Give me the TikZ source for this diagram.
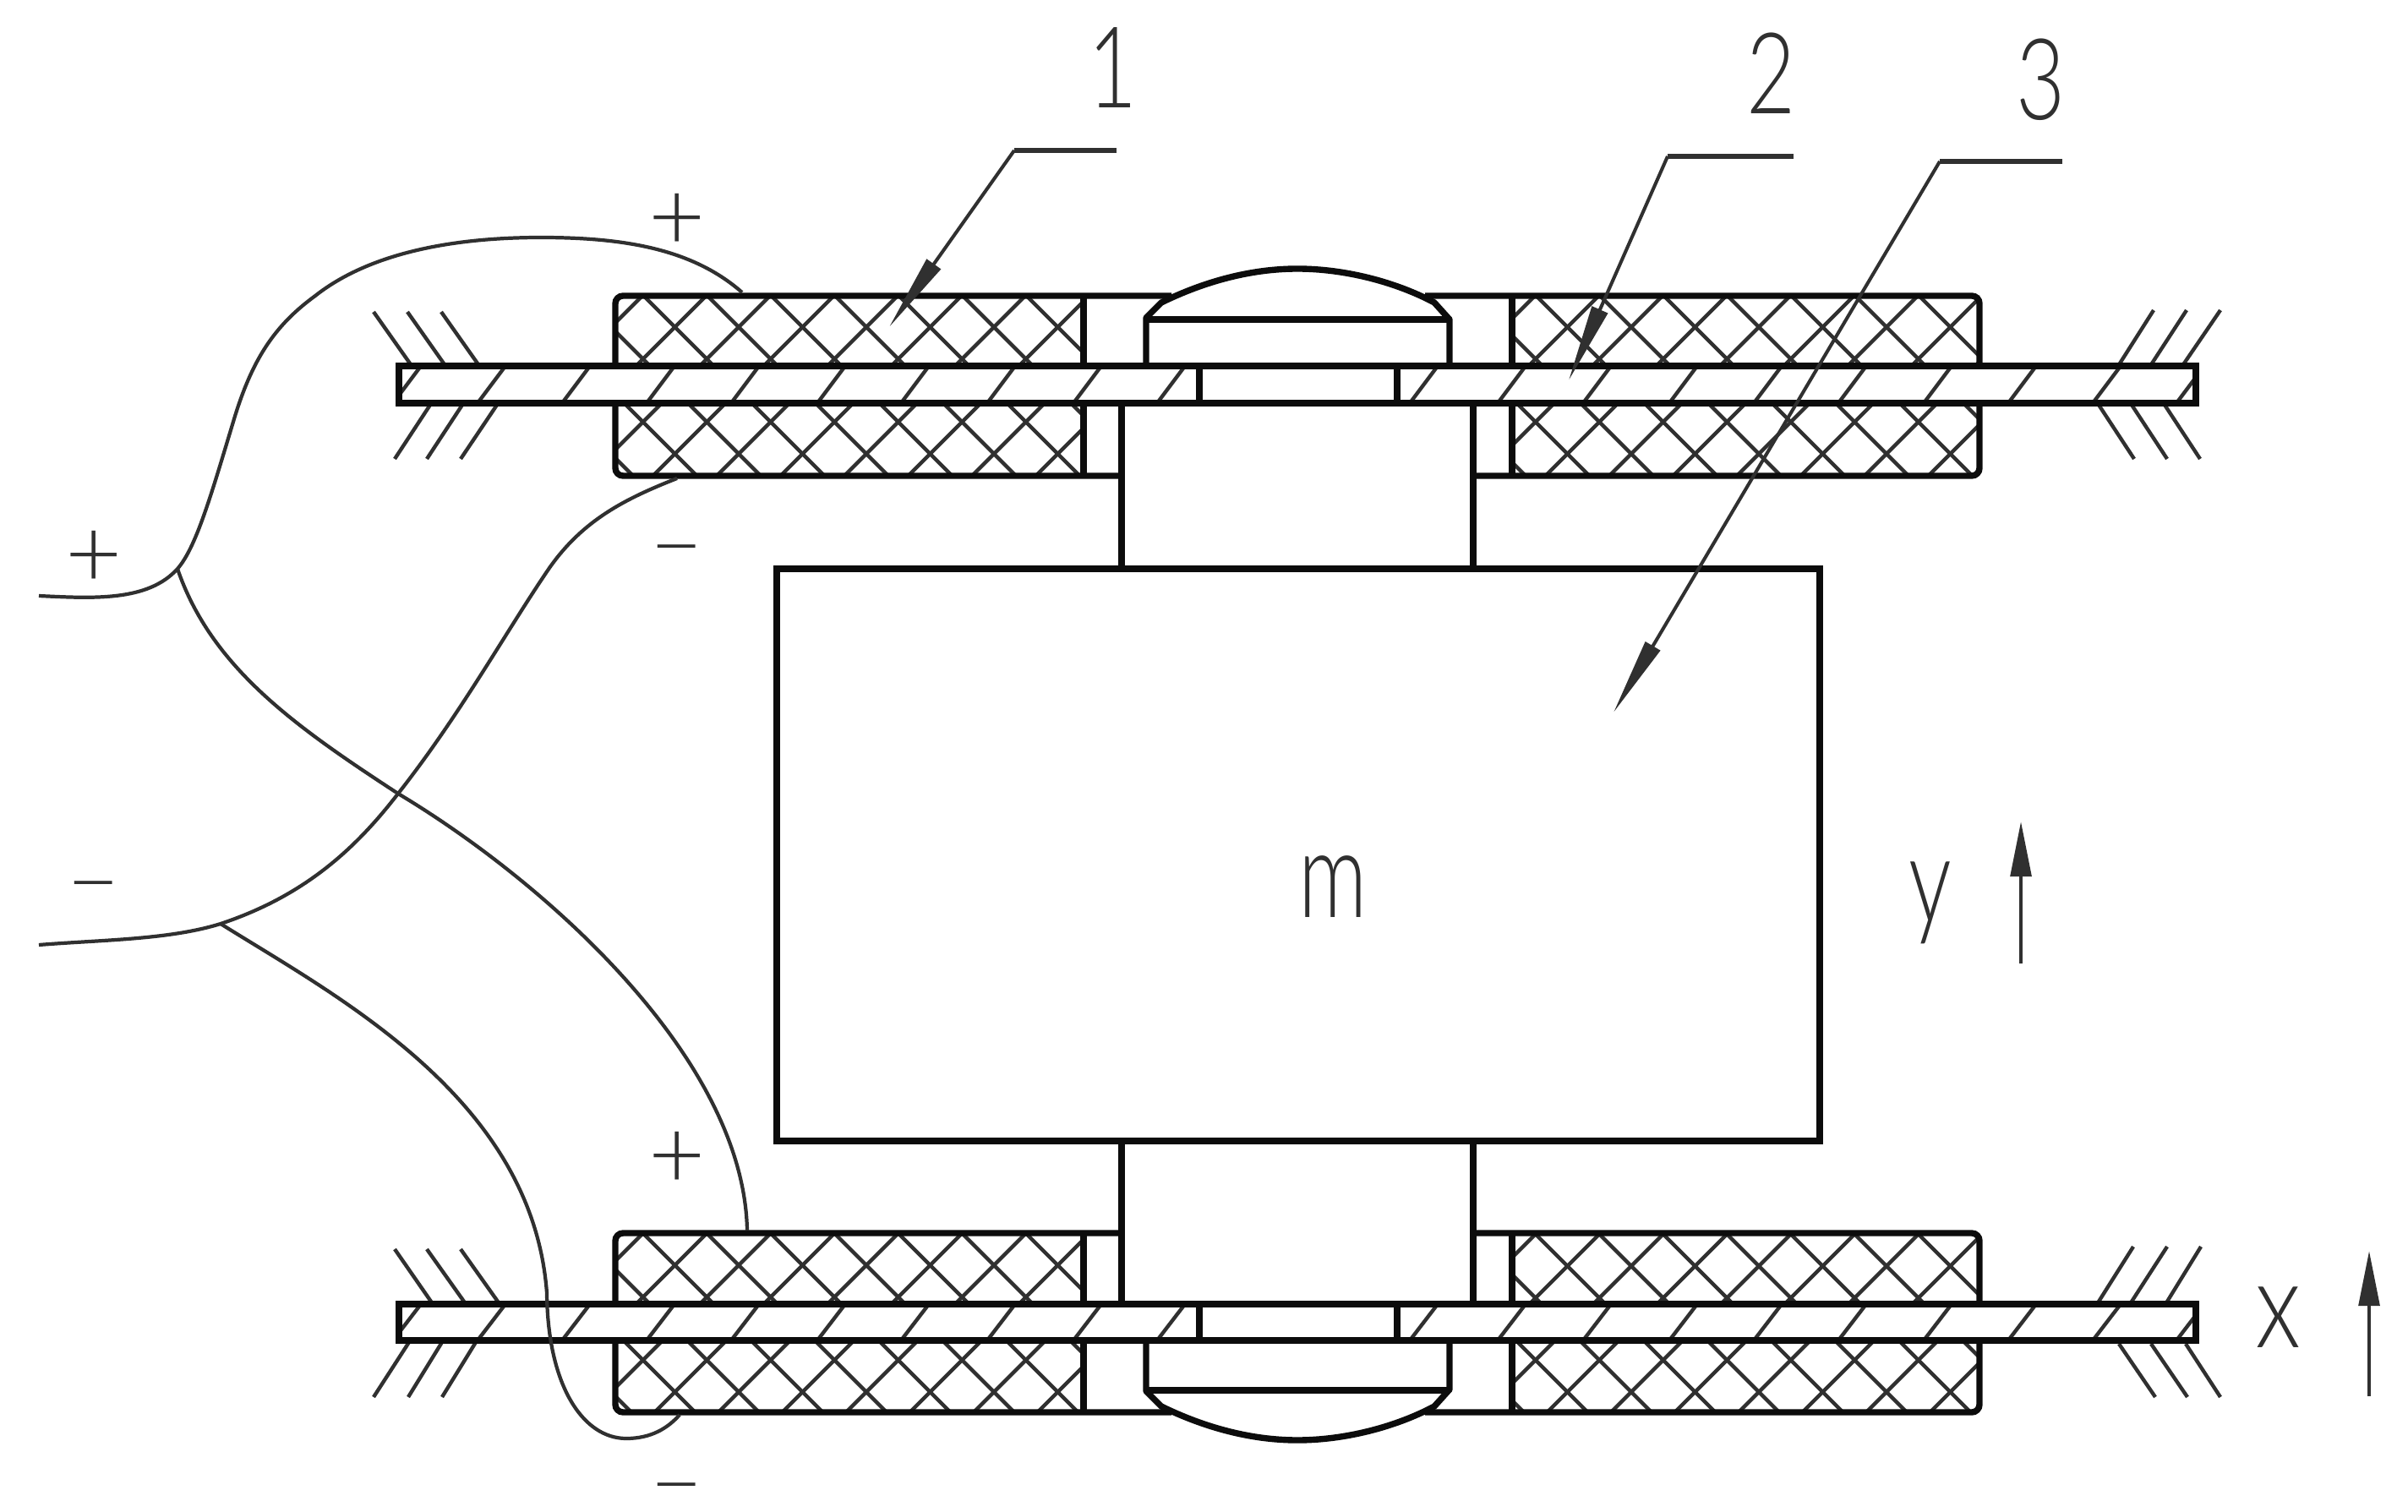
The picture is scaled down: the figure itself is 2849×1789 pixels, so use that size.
\documentclass[tikz,border=0pt]{standalone}
\usepackage{graphicx}
\usepackage{fontspec}
\usetikzlibrary{arrows.meta}
\newfontfamily\labfont{Lato Light}
\newfontfamily\minusfont{Lato}
\definecolor{ink}{HTML}{0C0C0C}
\definecolor{fine}{HTML}{303030}
\newcommand{\glyph}[3]{\scalebox{#1}[1]{\fontsize{#2}{#2}\selectfont #3}}
\newcommand{\signglyph}[1]{{\fontsize{33}{33}\selectfont\raisebox{-.33em}[.2em][.2em]{#1}}}
\newcommand{\minusglyph}{\scalebox{1.85}[1]{\minusfont\fontsize{16}{16}\selectfont\raisebox{-.33em}[.1em][.1em]{−}}}
\newcommand{\xhatch}[6]{%
  \begin{scope}
    \clip (#1,#2) rectangle (#3,#4);
    \foreach \k in {-9,...,9}{
      \draw[hatchline] ({#5+\k*75.5-300},{#6-300}) -- ({#5+\k*75.5+300},{#6+300});
      \draw[hatchline] ({#5+\k*75.5+300},{#6-300}) -- ({#5+\k*75.5-300},{#6+300});
    }
  \end{scope}}
\newcommand{\railhatch}[2]{%
  \begin{scope}
    \clip (472,#1) rectangle (2598,#2);
    \foreach \bx in {465,565,665,765,865,967,1066,1168,1270,1369,1668,1772,1873,1975,2075,2175,2276,2376,2476,2575}{
      \draw[hatchline] (\bx,#2) -- ({\bx+33},#1);
    }
  \end{scope}}
\tikzset{
  heavy/.style={draw=ink,line width=2.1pt,line join=miter},
  hatchline/.style={draw=fine,line width=1.25pt},
  wire/.style={draw=fine,line width=1.2pt,line join=round},
  leader/.style={draw=fine,line width=1.15pt},
  lab/.style={inner sep=0pt,outer sep=0pt,anchor=center,text=fine,font=\labfont}
}
\begin{document}
\begin{tikzpicture}[x=0.01cm,y=-0.01cm]
\useasboundingbox (0,0) rectangle (2849,1789);
\fill[white] (0,0) rectangle (2849,1789);

% cross-hatched coils
\xhatch{728}{350}{1282}{433}{1176}{387}
\xhatch{728}{477}{1282}{563}{1176}{537}
\xhatch{1789}{350}{2342}{433}{2232}{387}
\xhatch{1789}{477}{2342}{563}{2232}{537}
\xhatch{728}{1459}{1282}{1543}{1176}{1497}
\xhatch{728}{1586}{1282}{1671}{1176}{1647}
\xhatch{1789}{1459}{2342}{1543}{2232}{1498}
\xhatch{1789}{1586}{2342}{1671}{2232}{1647}

% rail hatching
\railhatch{433}{477}
\railhatch{1543}{1586}

% ground hatching
\foreach \a/\b/\c/\d in {442/369/485/430,482/369/525/430,522/369/565/430,
  509/479/467/543,547/479/505/543,588/479/545/543,
  2548/367/2508/430,2587/367/2546/430,2627/367/2584/430,
  2483/479/2525/543,2522/479/2564/543,2561/479/2603/543,
  467/1478/510/1540,505/1478/549/1540,545/1478/589/1540,
  484/1588/442/1653,523/1588/483/1653,563/1588/523/1653,
  2524/1475/2483/1540,2564/1475/2522/1540,2604/1475/2564/1540,
  2507/1590/2550/1653,2545/1590/2588/1653,2586/1590/2627/1653}{
  \draw[hatchline] (\a,\b) -- (\c,\d);
}

% rails
\draw[heavy] (472,433) rectangle (2598,477);
\draw[heavy] (472,1543) rectangle (2598,1586);
\draw[heavy] (1419,433) -- (1419,477) (1653,433) -- (1653,477);
\draw[heavy] (1419,1543) -- (1419,1586) (1653,1543) -- (1653,1586);

% upper coil outlines
\draw[heavy,rounded corners=2.6pt] (728,433) -- (728,350) -- (1386,350);
\draw[heavy,rounded corners=2.6pt] (2342,433) -- (2342,350) -- (1686,350);
\draw[heavy,rounded corners=2.6pt] (728,477) -- (728,563) -- (1327,563);
\draw[heavy,rounded corners=2.6pt] (2342,477) -- (2342,563) -- (1743,563);
\draw[heavy] (1282,350) -- (1282,433) (1282,477) -- (1282,563);
\draw[heavy] (1789,350) -- (1789,433) (1789,477) -- (1789,563);

% lower coil outlines
\draw[heavy,rounded corners=2.6pt] (728,1543) -- (728,1459) -- (1327,1459);
\draw[heavy,rounded corners=2.6pt] (2342,1543) -- (2342,1459) -- (1743,1459);
\draw[heavy,rounded corners=2.6pt] (728,1586) -- (728,1671) -- (1386,1671);
\draw[heavy,rounded corners=2.6pt] (2342,1586) -- (2342,1671) -- (1686,1671);
\draw[heavy] (1282,1459) -- (1282,1543) (1282,1586) -- (1282,1671);
\draw[heavy] (1789,1459) -- (1789,1543) (1789,1586) -- (1789,1671);

% rivet heads
\draw[heavy,line join=round] (1356,433) -- (1356,376) -- (1374,358) .. controls (1425,333) and (1480,318) .. (1535,318) .. controls (1590,318) and (1650,333) .. (1697,358) -- (1715,378) -- (1715,433);
\draw[heavy] (1356,378) -- (1715,378);
\draw[heavy,line join=round] (1356,1586) -- (1356,1646) -- (1374,1664) .. controls (1425,1689) and (1480,1704) .. (1535,1704) .. controls (1590,1704) and (1650,1689) .. (1697,1664) -- (1715,1644) -- (1715,1586);
\draw[heavy] (1356,1645) -- (1715,1645);

% mass and shafts
\draw[heavy] (919,673) rectangle (2153,1350);
\draw[heavy] (1327,477) -- (1327,673) (1743,477) -- (1743,673);
\draw[heavy] (1327,1350) -- (1327,1543) (1743,1350) -- (1743,1543);

% wires
\draw[wire] (46,705) .. controls (110,708) and (175,712) .. (210,673) .. controls (232,648) and (250,585) .. (276,499) .. controls (298,425) and (325,385) .. (373,350) .. controls (430,305) and (520,281) .. (640,281) .. controls (740,281) and (820,295) .. (878,346);
\draw[wire] (210,673) .. controls (250,790) and (350,860) .. (471,939) .. controls (640,1040) and (880,1250) .. (884,1456);
\draw[wire] (46,1118) .. controls (120,1112) and (200,1112) .. (261,1093) .. controls (360,1060) and (420,1005) .. (471,939) .. controls (545,845) and (600,745) .. (650,672) .. controls (690,615) and (740,590) .. (801,566);
\draw[wire] (261,1093) .. controls (400,1180) and (630,1300) .. (647,1530) .. controls (648,1640) and (690,1702) .. (741,1702) .. controls (770,1702) and (790,1690) .. (804,1674);

% leaders
\coordinate (c1a) at (1321,178);
\coordinate (c1b) at (1200,178);
\coordinate (c1c) at (1052,387);
\coordinate (c2a) at (2122,185);
\coordinate (c2b) at (1973,185);
\coordinate (c2c) at (1856,450);
\coordinate (c3a) at (2440,191);
\coordinate (c3b) at (2295,191);
\coordinate (c3c) at (1909,843);
\draw[leader,-{Triangle[length=26pt,width=5.6pt]}] (c1b) -- (c1c);
\draw[leader,-{Triangle[length=26pt,width=5.6pt]}] (c2b) -- (c2c);
\draw[leader,-{Triangle[length=26pt,width=5.6pt]}] (c3b) -- (c3c);
\draw[leader,line width=1.7pt] (c1a) -- (c1b);
\draw[leader,line width=1.7pt] (c2a) -- (c2b);
\draw[leader,line width=1.7pt] (c3a) -- (c3b);

% motion arrows
\coordinate (ya) at (2391,1140);
\coordinate (yb) at (2391,972);
\coordinate (xa) at (2803,1652);
\coordinate (xb) at (2803,1480);
\draw[leader,-{Triangle[length=18.5pt,width=7pt]}] (ya) -- (yb);
\draw[leader,-{Triangle[length=18.5pt,width=7pt]}] (xa) -- (xb);

% labels
\node[lab] (n1) at (1317,80) {\glyph{0.75}{38}{1}};
\node[lab] (n2) at (2096,87) {\glyph{0.75}{38}{2}};
\node[lab] (n3) at (2415,94) {\glyph{0.75}{38}{3}};
\node[lab] (nm) at (1577,1049) {\glyph{0.7}{41}{m}};
\node[lab] (ny) at (2284,1068) {\glyph{0.7}{41}{y}};
\node[lab] (nx) at (2696,1559) {\glyph{0.8}{41}{x}};
\node[lab] (p1) at (801,258) {\signglyph{+}};
\node[lab] (p2) at (111,657) {\signglyph{+}};
\node[lab] (p3) at (801,1368) {\signglyph{+}};
\node[lab] (m1) at (801,647) {\minusglyph};
\node[lab] (m2) at (111,1045) {\minusglyph};
\node[lab] (m3) at (801,1757) {\minusglyph};
\end{tikzpicture}
\end{document}
